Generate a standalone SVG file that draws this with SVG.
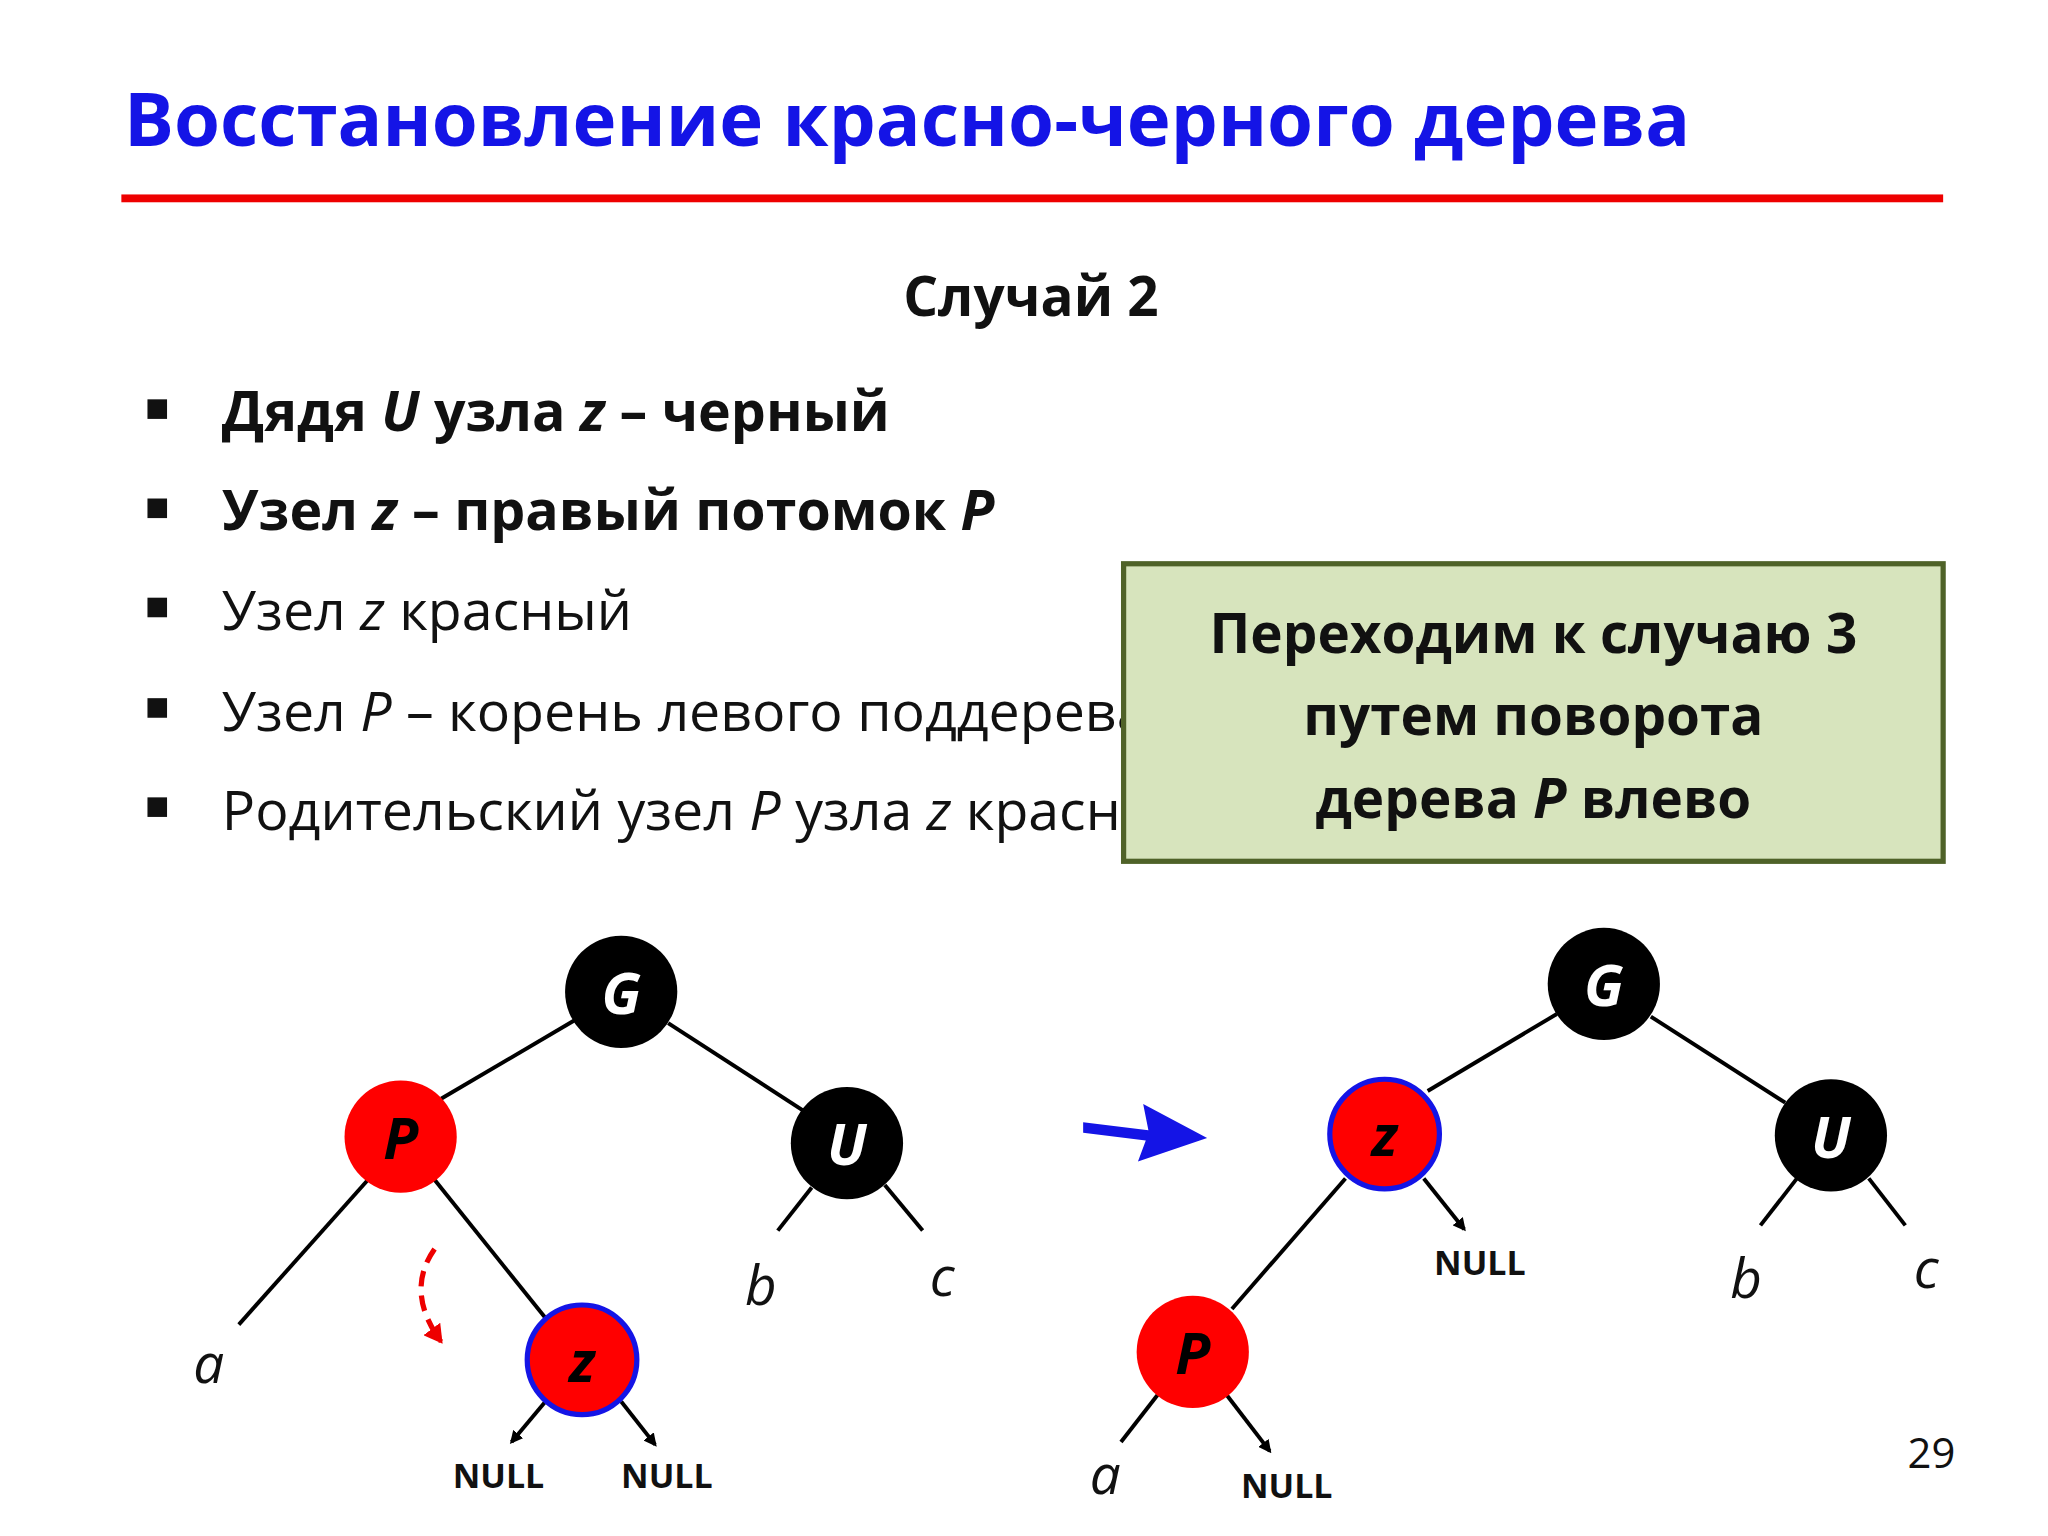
<svg xmlns="http://www.w3.org/2000/svg" width="2048" height="1536" viewBox="0 0 2048 1536">
<style>
text{font-family:"Open Sans","Noto Sans",sans-serif}
.b{font-weight:bold}
.t{font-size:42.5px;fill:#111}
.lbl{font-size:42px;font-style:italic;fill:#111}
.null{font-size:26px;font-weight:bold;fill:#111}
.nl{font-size:44px;font-weight:bold;font-style:italic;text-anchor:middle}
.e{stroke:#000;stroke-width:3;fill:none}
</style>
<defs>
<marker id="ah" markerWidth="10" markerHeight="10" refX="8" refY="5" orient="auto" markerUnits="userSpaceOnUse"><path d="M0,0 L10,5 L0,10 z" fill="#000"/></marker>
<marker id="rh" markerWidth="16" markerHeight="16" refX="12" refY="8" orient="auto" markerUnits="userSpaceOnUse"><path d="M0,0 L14,8 L0,16 z" fill="#e00"/></marker>
</defs>
<rect width="2048" height="1536" fill="#fff"/>
<g transform="scale(1.305)">
<text x="95" y="112" class="b" font-size="57" fill="#1414e6">Восстановление красно-черного дерева</text>
<rect x="93" y="149" width="1396" height="6" fill="#e00"/>
<text x="790" y="242" class="b" font-size="42" fill="#111" text-anchor="middle">Случай 2</text>
<g fill="#111">
<rect x="113" y="306" width="15" height="15"/><rect x="113" y="382" width="15" height="15"/><rect x="113" y="458" width="15" height="15"/><rect x="113" y="535" width="15" height="15"/><rect x="113" y="611" width="15" height="15"/>
</g>
<text x="170" y="330" class="t b">Дядя <tspan font-style="italic">U</tspan> узла <tspan font-style="italic">z</tspan> – черный</text>
<text x="170" y="406" class="t b">Узел <tspan font-style="italic">z</tspan> – правый потомок <tspan font-style="italic">P</tspan></text>
<text x="170" y="483" class="t">Узел <tspan font-style="italic">z</tspan> красный</text>
<text x="170" y="560" class="t">Узел <tspan font-style="italic">P</tspan> – корень левого поддерева</text>
<text x="170" y="636" class="t">Родительский узел <tspan font-style="italic">P</tspan> узла <tspan font-style="italic">z</tspan> красный</text>
<g id="box">
<rect x="861" y="432" width="628" height="228" fill="#d7e4bd" stroke="#4f6228" stroke-width="4"/>
<text x="1175" y="500" class="b" font-size="42" fill="#111" text-anchor="middle">Переходим к случаю 3</text>
<text x="1175" y="563" class="b" font-size="42" fill="#111" text-anchor="middle">путем поворота</text>
<text x="1175" y="627" class="b" font-size="42" fill="#111" text-anchor="middle">дерева <tspan font-style="italic">P</tspan> влево</text>
</g>
<g id="connectors">
<line class="e" x1="440" y1="782" x2="338" y2="842"/>
<line class="e" x1="512" y1="784" x2="617" y2="852"/>
<line class="e" x1="282" y1="904" x2="183" y2="1015"/>
<line class="e" x1="333" y1="904" x2="418" y2="1010"/>
<line class="e" x1="622" y1="910" x2="596" y2="943"/>
<line class="e" x1="678" y1="908" x2="707" y2="943"/>
<line class="e" x1="418" y1="1074" x2="392" y2="1105" marker-end="url(#ah)"/>
<line class="e" x1="476" y1="1074" x2="502" y2="1107" marker-end="url(#ah)"/>
<path d="M333,957 Q310,990 338,1028" stroke="#e00" stroke-width="4" stroke-dasharray="12,7" fill="none" marker-end="url(#rh)"/>
<path d="M830,860 L880,866 L876,846 L925,872 L872,890 L878,874 L830,868 z" fill="#1414e6"/>
<line class="e" x1="1193" y1="777" x2="1094" y2="836"/>
<line class="e" x1="1265" y1="779" x2="1368" y2="845"/>
<line class="e" x1="1031" y1="903" x2="944" y2="1003"/>
<line class="e" x1="1091" y1="903" x2="1122" y2="942" marker-end="url(#ah)"/>
<line class="e" x1="1377" y1="903" x2="1349" y2="939"/>
<line class="e" x1="1432" y1="903" x2="1460" y2="939"/>
<line class="e" x1="887" y1="1069" x2="859" y2="1105"/>
<line class="e" x1="940" y1="1069" x2="973" y2="1112" marker-end="url(#ah)"/>
</g>
<g id="L-G"><circle cx="476" cy="760" r="43" fill="#000"/><text x="476" y="777" class="nl" fill="#fff">G</text></g>
<g id="L-P"><circle cx="307" cy="871" r="43" fill="#f00"/><text x="307" y="888" class="nl" fill="#000">P</text></g>
<g id="L-U"><circle cx="649" cy="876" r="43" fill="#000"/><text x="649" y="893" class="nl" fill="#fff">U</text></g>
<g id="L-z"><circle cx="446" cy="1042" r="42" fill="#f00" stroke="#1414e6" stroke-width="4"/><text x="446" y="1059" class="nl" fill="#000">z</text></g>
<g id="R-G"><circle cx="1229" cy="754" r="43" fill="#000"/><text x="1229" y="771" class="nl" fill="#fff">G</text></g>
<g id="R-z"><circle cx="1061" cy="869" r="42" fill="#f00" stroke="#1414e6" stroke-width="4"/><text x="1061" y="886" class="nl" fill="#000">z</text></g>
<g id="R-U"><circle cx="1403" cy="870" r="43" fill="#000"/><text x="1403" y="887" class="nl" fill="#fff">U</text></g>
<g id="R-P"><circle cx="914" cy="1036" r="43" fill="#f00"/><text x="914" y="1053" class="nl" fill="#000">P</text></g>
<g id="labels">
<text x="160" y="1060" class="lbl" text-anchor="middle">a</text>
<text x="583" y="1000" class="lbl" text-anchor="middle">b</text>
<text x="722" y="993" class="lbl" text-anchor="middle">c</text>
<text x="382" y="1140" class="null" text-anchor="middle">NULL</text>
<text x="511" y="1140" class="null" text-anchor="middle">NULL</text>
<text x="1134" y="977" class="null" text-anchor="middle">NULL</text>
<text x="1338" y="995" class="lbl" text-anchor="middle">b</text>
<text x="1476" y="987" class="lbl" text-anchor="middle">c</text>
<text x="847" y="1145" class="lbl" text-anchor="middle">a</text>
<text x="986" y="1148" class="null" text-anchor="middle">NULL</text>
<text x="1480" y="1125" font-size="32" fill="#111" text-anchor="middle">29</text>
</g>
</g>
</svg>
